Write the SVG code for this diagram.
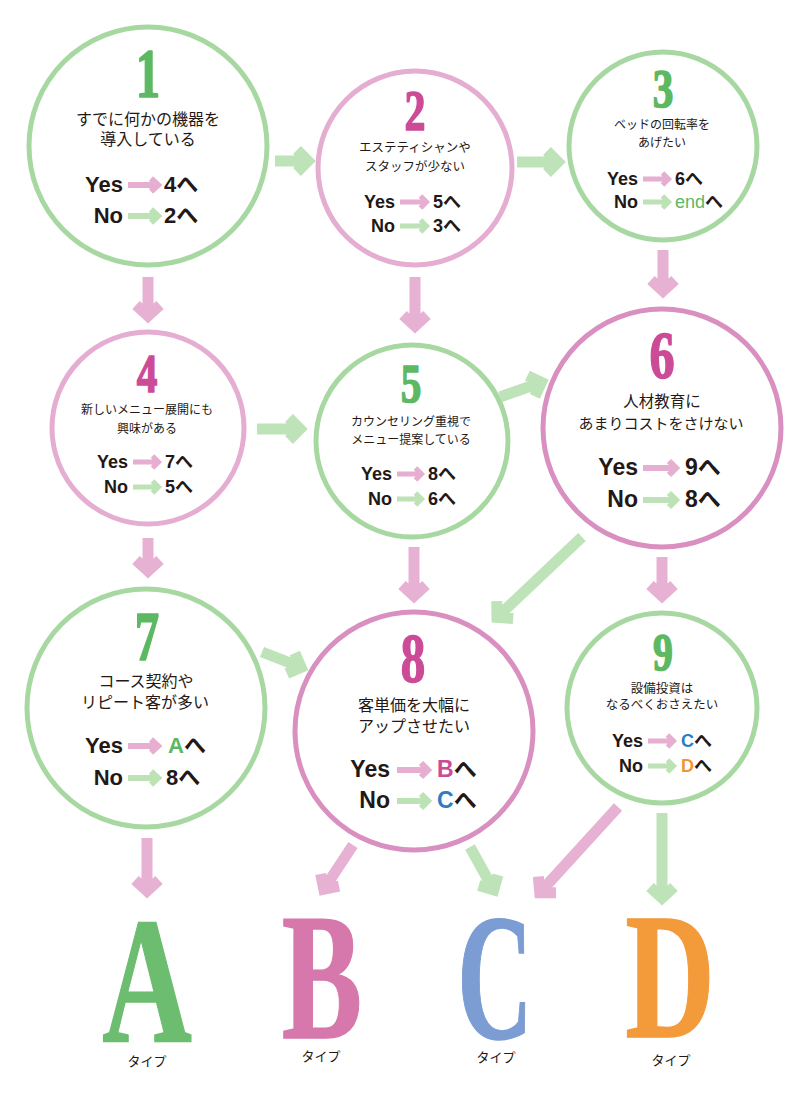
<svg xmlns="http://www.w3.org/2000/svg" width="800" height="1100" viewBox="0 0 800 1100">
<style>
.cg{fill:#fff;stroke:#a8d8a1;stroke-width:5}
.cp{fill:#fff;stroke:#e4add1;stroke-width:5}
.cpd{fill:#fff;stroke:#d98fbf;stroke-width:5}
.num{font-family:"Liberation Serif",serif;font-weight:bold;text-anchor:middle;stroke-width:1.6;stroke-linejoin:round}
.ng{fill:#5db862;stroke:#5db862}.nm{fill:#cc4b97;stroke:#cc4b97}
.q{font-family:"Noto Sans CJK JP",sans-serif;fill:#231815;text-anchor:middle}
.yn{font-family:"Liberation Sans","Noto Sans CJK JP",sans-serif;font-weight:bold;fill:#231815}
.e{text-anchor:end}
.tg{fill:#5db862}.tm{fill:#cc4b97}.tb{fill:#2d7cc4}.to{fill:#f39433}
.ag{fill:none;stroke:#bfe3b9;stroke-width:11;stroke-linejoin:miter}
.ap{fill:none;stroke:#e7b1d3;stroke-width:11;stroke-linejoin:miter}
.sg{fill:none;stroke:#bde2b6;stroke-linejoin:miter}
.sp{fill:none;stroke:#e6aed0;stroke-linejoin:miter}
.w6{stroke-width:6}.w5{stroke-width:5}
.big{font-family:"Liberation Serif",serif;font-weight:bold;text-anchor:middle;font-size:180px;stroke-width:1.5}
.ty{font-family:"Noto Sans CJK JP",sans-serif;fill:#231815;text-anchor:middle;font-size:13px}
</style>
<rect width="800" height="1100" fill="#fff"/>
<g id="connectors">
<path class="ag" transform="translate(275,161)" d="M0,0 H30 M22,-11 L33,0 L22,11"/>
<path class="ag" transform="translate(517,162)" d="M0,0 H38 M30,-11 L41,0 L30,11"/>
<path class="ap" transform="translate(148,277) rotate(90)" d="M0,0 H36 M28,-12 L39,0 L28,12"/>
<path class="ap" transform="translate(415,277) rotate(90)" d="M0,0 H46 M38,-12 L49,0 L38,12"/>
<path class="ap" transform="translate(663,250) rotate(90)" d="M0,0 H38 M30,-12 L41,0 L30,12"/>
<path class="ag" transform="translate(257,429)" d="M0,0 H40 M32,-11 L43,0 L32,11"/>
<path class="ag" transform="translate(500,397) rotate(-19.5)" d="M0,0 H41 M33,-11 L44,0 L33,11"/>
<path class="ap" transform="translate(148,538) rotate(90)" d="M0,0 H30 M22,-12 L33,0 L22,12"/>
<path class="ap" transform="translate(414,547) rotate(90)" d="M0,0 H46 M38,-12 L49,0 L38,12"/>
<path class="ag" transform="translate(582,537) rotate(136.6)" d="M0,0 H114 M106,-12 L117,0 L106,12"/>
<path class="ap" transform="translate(662,557) rotate(90)" d="M0,0 H36 M28,-12 L39,0 L28,12"/>
<path class="ag" transform="translate(262,652) rotate(21.4)" d="M0,0 H39 M31,-11 L42,0 L31,11"/>
<path class="ap" transform="translate(147,838) rotate(90)" d="M0,0 H50 M42,-12 L53,0 L42,12"/>
<path class="ap" transform="translate(353,845) rotate(123.4)" d="M0,0 H50 M42,-11 L53,0 L42,11"/>
<path class="ag" transform="translate(470,847) rotate(61.1)" d="M0,0 H46 M38,-11 L49,0 L38,11"/>
<path class="ap" transform="translate(618,807) rotate(132.4)" d="M0,0 H113 M105,-12 L116,0 L105,12"/>
<path class="ag" transform="translate(662,813) rotate(90)" d="M0,0 H82 M74,-12 L85,0 L74,12"/>
</g>
<g id="node1">
<circle class="cg" cx="148" cy="146" r="119"/>
<text class="num ng" transform="translate(148,97) scale(0.7,1)" font-size="70">1</text>
<text class="q" x="148" y="125" font-size="16">すでに何かの機器を</text>
<text class="q" x="148" y="145" font-size="16">導入している</text>
<text class="yn e" x="123" y="192" font-size="22">Yes</text>
<text class="yn e" x="123" y="223" font-size="22">No</text>
<path class="sp w6" d="M128,185 H156 M151,178.5 L158,185 L151,191.5"/>
<path class="sg w6" d="M128,216 H156 M151,209.5 L158,216 L151,222.5"/>
<text class="yn" x="164" y="192" font-size="22">4へ</text>
<text class="yn" x="164" y="223" font-size="22">2へ</text>
</g>
<g id="node2">
<circle class="cp" cx="415" cy="168" r="97"/>
<text class="num nm" transform="translate(415,130) scale(0.75,1)" font-size="56">2</text>
<text class="q" x="415" y="152" font-size="12.5">エステティシャンや</text>
<text class="q" x="415" y="171" font-size="12.5">スタッフが少ない</text>
<text class="yn e" x="395" y="208" font-size="18">Yes</text>
<text class="yn e" x="395" y="232" font-size="18">No</text>
<path class="sp w5" d="M400,202 H425 M420.5,196 L426.5,202 L420.5,208"/>
<path class="sg w5" d="M400,226 H425 M420.5,220 L426.5,226 L420.5,232"/>
<text class="yn" x="433" y="208" font-size="18">5へ</text>
<text class="yn" x="433" y="232" font-size="18">3へ</text>
</g>
<g id="node3">
<circle class="cg" cx="663" cy="146" r="94"/>
<text class="num ng" transform="translate(663,107) scale(0.75,1)" font-size="55">3</text>
<text class="q" x="662" y="129" font-size="12">ベッドの回転率を</text>
<text class="q" x="662" y="147" font-size="12">あげたい</text>
<text class="yn e" x="638" y="185" font-size="18">Yes</text>
<text class="yn e" x="638" y="208" font-size="18">No</text>
<path class="sp w5" d="M643,179 H667 M662.5,173 L668.5,179 L662.5,185"/>
<path class="sg w5" d="M643,202 H667 M662.5,196 L668.5,202 L662.5,208"/>
<text class="yn" x="675" y="185" font-size="18">6へ</text>
<text class="yn" x="675" y="208" font-size="18"><tspan class="tg" font-weight="normal">end</tspan>へ</text>
</g>
<g id="node4">
<circle class="cp" cx="148" cy="428" r="96"/>
<text class="num nm" transform="translate(147,392) scale(0.75,1)" font-size="55">4</text>
<text class="q" x="147" y="414" font-size="12">新しいメニュー展開にも</text>
<text class="q" x="147" y="433" font-size="12">興味がある</text>
<text class="yn e" x="128" y="468" font-size="18">Yes</text>
<text class="yn e" x="128" y="493" font-size="18">No</text>
<path class="sp w5" d="M133,462 H157 M152.5,456 L158.5,462 L152.5,468"/>
<path class="sg w5" d="M133,487 H157 M152.5,481 L158.5,487 L152.5,493"/>
<text class="yn" x="165" y="468" font-size="18">7へ</text>
<text class="yn" x="165" y="493" font-size="18">5へ</text>
</g>
<g id="node5">
<circle class="cg" cx="412" cy="441" r="96"/>
<text class="num ng" transform="translate(411,402) scale(0.75,1)" font-size="55">5</text>
<text class="q" x="411" y="426" font-size="12">カウンセリング重視で</text>
<text class="q" x="411" y="444" font-size="12">メニュー提案している</text>
<text class="yn e" x="392" y="480" font-size="18">Yes</text>
<text class="yn e" x="392" y="505" font-size="18">No</text>
<path class="sp w5" d="M397,474 H420 M415.5,468 L421.5,474 L415.5,480"/>
<path class="sg w5" d="M397,499 H420 M415.5,493 L421.5,499 L415.5,505"/>
<text class="yn" x="428" y="480" font-size="18">8へ</text>
<text class="yn" x="428" y="505" font-size="18">6へ</text>
</g>
<g id="node6">
<circle class="cpd" cx="662" cy="428" r="119"/>
<text class="num nm" transform="translate(662,378) scale(0.75,1)" font-size="67">6</text>
<text class="q" x="662" y="407" font-size="15.5">人材教育に</text>
<text class="q" x="661" y="429" font-size="15">あまりコストをさけない</text>
<text class="yn e" x="638" y="475" font-size="23">Yes</text>
<text class="yn e" x="638" y="507" font-size="23">No</text>
<path class="sp w6" d="M643,468 H674 M669,461 L676,468 L669,475"/>
<path class="sg w6" d="M643,500 H674 M669,493 L676,500 L669,507"/>
<text class="yn" x="685" y="475" font-size="23">9へ</text>
<text class="yn" x="685" y="507" font-size="23">8へ</text>
</g>
<g id="node7">
<circle class="cg" cx="146" cy="708" r="119"/>
<text class="num ng" transform="translate(147,660) scale(0.7,1)" font-size="70">7</text>
<text class="q" x="146" y="687" font-size="16">コース契約や</text>
<text class="q" x="145" y="708" font-size="16">リピート客が多い</text>
<text class="yn e" x="123" y="753" font-size="22">Yes</text>
<text class="yn e" x="123" y="785" font-size="22">No</text>
<path class="sp w6" d="M128,746 H156 M151,739.5 L158,746 L151,752.5"/>
<path class="sg w6" d="M128,778 H156 M151,771.5 L158,778 L151,784.5"/>
<text class="yn" x="168" y="753" font-size="22"><tspan class="tg">A</tspan>へ</text>
<text class="yn" x="166" y="785" font-size="22">8へ</text>
</g>
<g id="node8">
<circle class="cpd" cx="414" cy="731" r="119"/>
<text class="num nm" transform="translate(413,682) scale(0.7,1)" font-size="70">8</text>
<text class="q" x="414" y="711" font-size="16">客単価を大幅に</text>
<text class="q" x="414" y="732" font-size="16">アップさせたい</text>
<text class="yn e" x="390" y="777" font-size="23">Yes</text>
<text class="yn e" x="390" y="808" font-size="23">No</text>
<path class="sp w6" d="M397,770 H426 M421,763 L428,770 L421,777"/>
<path class="sg w6" d="M397,801 H426 M421,794 L428,801 L421,808"/>
<text class="yn" x="437" y="777" font-size="23"><tspan class="tm">B</tspan>へ</text>
<text class="yn" x="437" y="808" font-size="23"><tspan class="tb">C</tspan>へ</text>
</g>
<g id="node9">
<circle class="cg" cx="662" cy="708" r="95"/>
<text class="num ng" transform="translate(663,670) scale(0.75,1)" font-size="53">9</text>
<text class="q" x="662" y="693" font-size="12.5">設備投資は</text>
<text class="q" x="662" y="709" font-size="12.5">なるべくおさえたい</text>
<text class="yn e" x="643" y="747" font-size="18">Yes</text>
<text class="yn e" x="643" y="772" font-size="18">No</text>
<path class="sp w5" d="M648,741 H672 M667.5,735 L673.5,741 L667.5,747"/>
<path class="sg w5" d="M648,766 H672 M667.5,760 L673.5,766 L667.5,772"/>
<text class="yn" x="681" y="747" font-size="18"><tspan class="tb">C</tspan>へ</text>
<text class="yn" x="681" y="772" font-size="18"><tspan class="to">D</tspan>へ</text>
</g>
<g id="typeA">
<text class="big" transform="translate(147,1041) scale(0.69,1)" fill="#6cbd6f" stroke="#6cbd6f">A</text>
<text class="ty" x="147" y="1066">タイプ</text>
</g>
<g id="typeB">
<text class="big" transform="translate(322,1038) scale(0.67,1)" fill="#d678ab" stroke="#d678ab">B</text>
<text class="ty" x="321" y="1061">タイプ</text>
</g>
<g id="typeC">
<text class="big" transform="translate(495,1038) scale(0.58,1)" fill="#7b9dd3" stroke="#7b9dd3">C</text>
<text class="ty" x="496" y="1062">タイプ</text>
</g>
<g id="typeD">
<text class="big" transform="translate(670,1037) scale(0.69,1)" fill="#f39a3b" stroke="#f39a3b">D</text>
<text class="ty" x="671" y="1065">タイプ</text>
</g>
</svg>
